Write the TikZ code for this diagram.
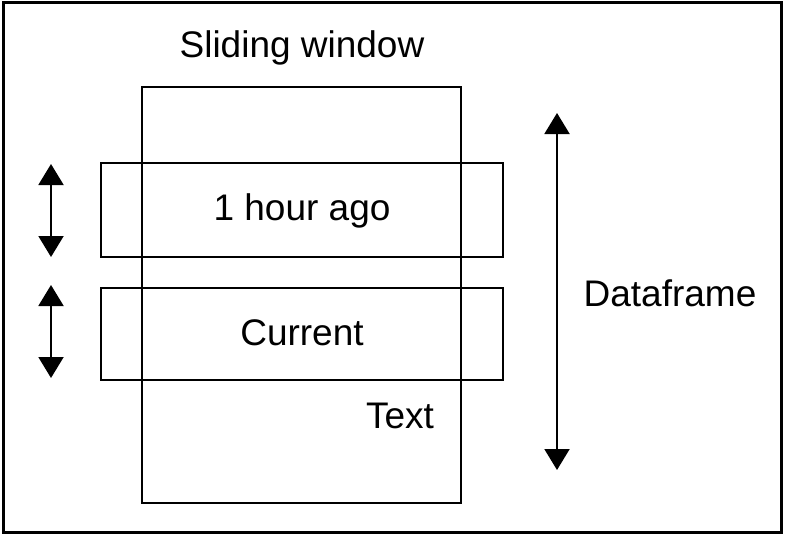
\documentclass[tikz,border=0pt]{standalone}
\usepackage{fontspec}
\setmainfont{Liberation Sans}
\usetikzlibrary{arrows.meta}
\begin{document}
\begin{tikzpicture}[x=1pt,y=-1pt,
  box/.style={draw=black,line width=2pt,inner sep=0pt},
  lbl/.style={font=\fontsize{37}{40}\selectfont,text=black,inner sep=0pt},
  dbl/.style={line width=2pt,draw=black,{Triangle[width=25pt,length=21pt]}-{Triangle[width=25pt,length=21pt]}}]
\useasboundingbox (0,0) rectangle (786,535);
\fill[white] (0,0) rectangle (786,535);
\node[draw=black,line width=3pt,minimum width=778pt,minimum height=529pt,inner sep=0pt] (frame) at (392.5,267.5) {};
\node[box,minimum width=319pt,minimum height=416pt] (win) at (301.5,295) {};
\node[box,minimum width=402pt,minimum height=94pt] (hour) at (302,210) {};
\node[box,minimum width=402pt,minimum height=92pt] (cur) at (302,334) {};
\node[lbl] (t1) at (302,48) {Sliding window};
\node[lbl] (t2) at (302,211) {1 hour ago};
\node[lbl] (t3) at (302,333) {Current};
\node[lbl] (t4) at (670,293) {Dataframe};
\node[lbl] (t5) at (400,416) {Text};
\coordinate (a1) at (51,164); \coordinate (a2) at (51,257);
\coordinate (b1) at (51,285); \coordinate (b2) at (51,378);
\coordinate (c1) at (557,113); \coordinate (c2) at (557,470);
\draw[dbl] (a1) -- (a2);
\draw[dbl] (b1) -- (b2);
\draw[dbl] (c1) -- (c2);
\end{tikzpicture}
\end{document}
